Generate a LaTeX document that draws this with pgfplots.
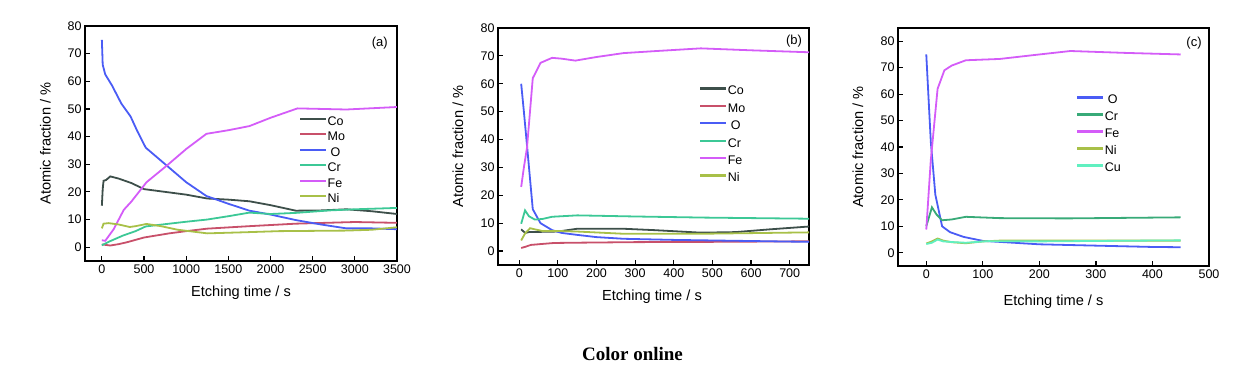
\documentclass[border=0pt]{standalone}
\usepackage{pgfplots}
\pgfplotsset{compat=1.18}
\usepackage{fontspec}
\setmainfont{Liberation Sans}
\newfontfamily\capfont{Liberation Serif}
\definecolor{cCo}{HTML}{3D4F4A}
\definecolor{cMo}{HTML}{C8506A}
\definecolor{cO}{HTML}{4A5CF5}
\definecolor{cCr}{HTML}{3CC896}
\definecolor{cCrc}{HTML}{38AA78}
\definecolor{cFe}{HTML}{D45CF8}
\definecolor{cNi}{HTML}{A8C048}
\definecolor{cCu}{HTML}{60F0C0}
\pgfplotsset{
  panel/.style={
    scale only axis,
    width=311pt, height=236pt,
    axis line style={line width=2pt},
    tick align=inside, tick pos=left,
    major tick length=5pt,
    tick style={line width=1.2pt, black},
    /pgf/number format/assume math mode=true,
    /pgf/number format/1000 sep={},
    ticklabel style={font=\fontsize{12.5}{14}\selectfont},
    label style={font=\fontsize{14.6}{16}\selectfont},
    xlabel={Etching time / s},
    ylabel={Atomic fraction / \%},
    xlabel style={at={(axis description cs:0.5,-0.136)}, anchor=center},
    ylabel style={at={(axis description cs:-0.127,0.5)}, anchor=center},
    ymin=-5,
    ytick={0,10,...,80},
    legend cell align=left,
    legend style={draw=none, fill=none, inner sep=0pt,
      font=\fontsize{12.5}{14}\selectfont,
      nodes={inner sep=1.5pt, text height=9pt, text depth=3pt},
      anchor=north west},
    legend image code/.code={\path[draw=none] (0pt,0pt) rectangle (26pt,8pt);
      \fill[##1, draw=none] (0pt,2.4pt) rectangle (26pt,4.6pt);},
    every axis plot/.append style={line width=1.8pt, no marks},
  }
}
\begin{document}
\begin{tikzpicture}
\useasboundingbox (0,0) rectangle (1245pt,369pt);
% ---------- (a) ----------
\begin{axis}[panel, at={(85pt,108pt)}, anchor=south west, width=312pt, height=235pt,
  xmin=-200, xmax=3500, ymax=80, xtick={0,500,...,3500},
  legend style={at={(0.689,0.625)}, row sep=0pt}]
\addplot[cCo] coordinates {(0,15) (10,21) (20,24) (50,24.3) (100,25.6) (200,24.8) (350,23.2) (500,21) (800,19.8) (1000,19) (1250,17.6) (1500,17.2) (1750,16.6) (2000,15.2) (2300,13.2) (2600,13.3) (2900,13.7) (3200,13) (3500,12)};
\addlegendentry{Co}
\addplot[cMo] coordinates {(0,1) (100,0.6) (200,1.1) (300,1.8) (500,3.5) (800,5) (1000,5.8) (1250,6.7) (1750,7.6) (2300,8.5) (3000,9.1) (3500,8.8)};
\addlegendentry{Mo}
\addplot[cO] coordinates {(0,75) (10,66) (40,62.5) (120,58.5) (230,52) (340,47.3) (420,42) (520,36) (770,29.5) (1000,23.5) (1240,18.5) (1500,15.7) (1750,13.2) (2000,11.8) (2300,9.8) (2600,8.2) (2900,6.8) (3200,6.8) (3500,6.5)};
\addlegendentry{\hspace{3pt}O}
\addplot[cCr] coordinates {(0,0.7) (100,2.2) (250,4.2) (400,5.8) (520,7.5) (800,8.5) (1000,9.2) (1250,10) (1500,11.2) (1750,12.5) (2000,12) (2300,12.4) (2700,13.3) (3000,13.7) (3500,14.2)};
\addlegendentry{Cr}
\addplot[cFe] coordinates {(0,2.5) (40,2.3) (140,6.5) (260,13.5) (350,16.5) (530,23.5) (770,29.5) (1000,35.5) (1240,41) (1500,42.3) (1750,43.8) (2000,46.8) (2320,50.2) (2900,49.8) (3500,50.7)};
\addlegendentry{Fe}
\addplot[cNi] coordinates {(0,6.8) (20,8.5) (80,8.7) (200,8.2) (330,7.3) (400,7.6) (530,8.4) (700,7.6) (900,6.3) (1250,5) (1700,5.4) (2100,5.8) (2900,6) (3200,6.3) (3500,7.2)};
\addlegendentry{Ni}
\node[font=\fontsize{13}{15}\selectfont] at (rel axis cs:0.945,0.928) {(a)};
\end{axis}
% ---------- (b) ----------
\begin{axis}[panel, at={(498pt,104pt)}, anchor=south west, width=311pt, height=237pt,
  xmin=-55, xmax=750, ymax=80, xtick={0,100,...,700},
  xlabel style={at={(axis description cs:0.495,-0.134)}},
  ylabel style={at={(axis description cs:-0.129,0.5)}},
  legend style={at={(0.65,0.765)}, row sep=1.9pt}]
\addplot[cCo] coordinates {(5,7.8) (15,6.5) (25,6.8) (40,6.8) (60,6.9) (100,7) (150,8) (270,8) (350,7.5) (470,6.6) (560,6.8) (650,7.8) (750,8.8)};
\addlegendentry{Co}
\addplot[cMo] coordinates {(5,1.1) (15,1.5) (30,2.2) (55,2.5) (90,2.9) (150,3) (300,3.2) (500,3.3) (750,3.5)};
\addlegendentry{Mo}
\addplot[cO] coordinates {(5,60) (12,50) (20,38) (35,15) (55,10) (85,7.5) (110,6.5) (150,5.8) (200,5) (270,4.4) (400,4) (550,3.7) (750,3.3)};
\addlegendentry{\hspace{3pt}O}
\addplot[cCr] coordinates {(5,9.8) (15,14.6) (25,12.5) (40,11.3) (60,11.5) (85,12.3) (150,12.8) (300,12.4) (480,12) (750,11.6)};
\addlegendentry{Cr}
\addplot[cFe] coordinates {(5,23) (12,30) (20,37) (35,62) (55,67.5) (85,69.3) (110,69) (145,68.3) (200,69.6) (270,71) (350,71.7) (470,72.7) (600,72) (750,71.3)};
\addlegendentry{Fe}
\addplot[cNi] coordinates {(5,3.8) (15,6.3) (28,8.2) (40,7.8) (60,7.2) (100,7.2) (150,7) (270,6.2) (470,6.2) (750,6.7)};
\addlegendentry{Ni}
\node[font=\fontsize{13}{15}\selectfont] at (rel axis cs:0.952,0.945) {(b)};
\end{axis}
% ---------- (c) ----------
\begin{axis}[panel, at={(898pt,103pt)}, anchor=south west, width=311pt, height=238pt,
  xmin=-50, xmax=500, ymax=85, xtick={0,100,...,500},
  xlabel style={at={(axis description cs:0.5,-0.15)}},
  ylabel style={at={(axis description cs:-0.129,0.5)}},
  legend style={at={(0.576,0.728)}, row sep=1.5pt}]
\addplot[cO] coordinates {(0,75) (8,42) (16,22) (28,10) (42,7.8) (66,6) (100,4.5) (200,3.2) (300,2.7) (400,2.2) (450,2.1)};
\addlegendentry{\hspace{3pt}O}
\addplot[cCrc] coordinates {(0,10) (10,17.2) (18,14.5) (28,12.3) (45,12.6) (70,13.6) (130,13.1) (250,13) (450,13.4)};
\addlegendentry{Cr}
\addplot[cFe] coordinates {(0,8.8) (8,35) (20,62) (32,69) (45,70.8) (70,72.8) (130,73.3) (200,75) (255,76.3) (350,75.6) (450,75)};
\addlegendentry{Fe}
\addplot[cNi] coordinates {(0,3.5) (10,4.3) (20,5.4) (30,4.6) (45,4) (70,3.6) (100,4.3) (130,4.6) (450,4.6)};
\addlegendentry{Ni}
\addplot[cCu] coordinates {(0,3.3) (10,3.8) (20,5) (30,4.3) (50,4) (70,3.8) (110,4.4) (200,4.3) (450,4.7)};
\addlegendentry{Cu}
\node[font=\fontsize{13}{15}\selectfont] at (rel axis cs:0.952,0.937) {(c)};
\end{axis}
\node[font=\capfont\bfseries\fontsize{19}{21}\selectfont] at (632.5pt,15pt) {Color online};
\end{tikzpicture}
\end{document}
